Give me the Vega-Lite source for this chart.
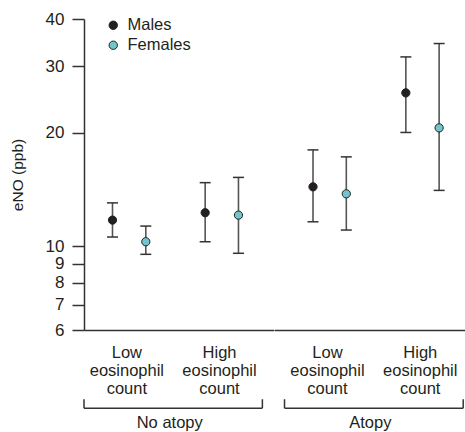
{
  "$schema": "https://vega.github.io/schema/vega-lite/v6.json",
  "autosize": {"type": "pad"},
  "padding": {"left": 10, "top": 10, "right": 0, "bottom": 0},
  "background": "white",
  "spacing": 0,
  "config": {
    "view": {"stroke": null},
    "font": "Liberation Sans",
    "concat": {"spacing": 0},
    "axisY": {
      "grid": false,
      "ticks": true,
      "tickSize": 12,
      "tickWidth": 1.5,
      "tickColor": "#333333",
      "tickOpacity": 1,
      "domainColor": "#333333",
      "domainWidth": 1.5,
      "labelPadding": 8,
      "labelFontSize": 17,
      "labelColor": "#231f20",
      "titleFontSize": 15.5,
      "titleFontWeight": "normal",
      "titleColor": "#231f20",
      "titlePadding": 20
    },
    "axisX": {
      "title": null,
      "ticks": false,
      "grid": false,
      "labelAngle": 0,
      "labelPadding": 14,
      "labelFontSize": 16.5,
      "labelLineHeight": 18.3,
      "labelColor": "#231f20",
      "domainColor": "#333333",
      "domainWidth": 1.5,
      "domainOpacity": 1
    }
  },
  "datasets": {
    "stats": [
      {"atopy": "No atopy", "eos": "Low", "sex": "Males", "mean": 11.73, "lo": 10.58, "hi": 13.03},
      {"atopy": "No atopy", "eos": "Low", "sex": "Females", "mean": 10.28, "lo": 9.52, "hi": 11.31},
      {"atopy": "No atopy", "eos": "High", "sex": "Males", "mean": 12.27, "lo": 10.28, "hi": 14.74},
      {"atopy": "No atopy", "eos": "High", "sex": "Females", "mean": 12.09, "lo": 9.58, "hi": 15.22},
      {"atopy": "Atopy", "eos": "Low", "sex": "Males", "mean": 14.37, "lo": 11.61, "hi": 18.0},
      {"atopy": "Atopy", "eos": "Low", "sex": "Females", "mean": 13.77, "lo": 11.04, "hi": 17.25},
      {"atopy": "Atopy", "eos": "High", "sex": "Males", "mean": 25.49, "lo": 20.02, "hi": 31.74},
      {"atopy": "Atopy", "eos": "High", "sex": "Females", "mean": 20.59, "lo": 14.06, "hi": 34.44}
    ]
  },
  "hconcat": [
    {
      "width": 189.5,
      "height": 311,
      "data": {"name": "stats"},
      "transform": [{"filter": "datum.atopy == 'No atopy'"}],
      "encoding": {
        "x": {
          "field": "eos",
          "type": "nominal",
          "scale": {"domain": ["Low", "High"], "paddingInner": 0.075, "paddingOuter": 0.06, "align": 0},
          "axis": {"labelExpr": "[datum.label, 'eosinophil', 'count']"}
        }
      },
      "layer": [
        {
          "mark": {"type": "rule", "color": "#555555", "strokeWidth": 1.6},
          "encoding": {
            "xOffset": {"field": "sex", "type": "nominal", "scale": {"domain": ["Males", "Females"], "paddingInner": 0, "paddingOuter": 0.287, "align": 0.62}},
            "y": {
              "field": "lo",
              "type": "quantitative",
              "scale": {"type": "log", "domain": [6, 40], "nice": false},
              "axis": {"values": [6, 7, 8, 9, 10, 20, 30, 40], "format": "d", "title": "eNO (ppb)", "ticks": true, "tickSize": 12, "tickColor": "#333333"}
            },
            "y2": {"field": "hi"}
          }
        },
        {
          "transform": [{"fold": ["lo", "hi"], "as": ["end", "val"]}],
          "mark": {"type": "tick", "orient": "horizontal", "color": "#333333", "size": 11, "thickness": 1.5, "opacity": 1},
          "encoding": {
            "xOffset": {"field": "sex", "type": "nominal"},
            "y": {"field": "val", "type": "quantitative", "axis": {"values": [6, 7, 8, 9, 10, 20, 30, 40], "format": "d", "title": "eNO (ppb)", "ticks": true, "tickSize": 12, "tickColor": "#333333"}}
          }
        },
        {
          "mark": {"type": "point", "filled": true, "size": 68, "stroke": "#231f20", "strokeWidth": 1, "opacity": 1},
          "encoding": {
            "xOffset": {"field": "sex", "type": "nominal"},
            "y": {"field": "mean", "type": "quantitative", "axis": {"values": [6, 7, 8, 9, 10, 20, 30, 40], "format": "d", "title": "eNO (ppb)", "ticks": true, "tickSize": 12, "tickColor": "#333333"}},
            "color": {
              "field": "sex",
              "type": "nominal",
              "scale": {"domain": ["Males", "Females"], "range": ["#231f20", "#70c7cb"]},
              "legend": {
                "title": null,
                "orient": "none",
                "legendX": 21,
                "legendY": -2,
                "padding": 0,
                "symbolType": "circle",
                "symbolSize": 70,
                "symbolStrokeColor": "#231f20",
                "symbolStrokeWidth": 1,
                "labelFontSize": 16.5,
                "labelColor": "#231f20",
                "labelOffset": 6,
                "rowPadding": 3
              }
            }
          }
        },
        {
          "transform": [{"filter": "datum.eos == 'Low' && datum.sex == 'Males'"}],
          "mark": {"type": "rule", "color": "#333333", "strokeWidth": 1.5},
          "encoding": {
            "x": {"datum": "Low", "type": "nominal", "bandPosition": 0},
            "x2": {"datum": "High", "bandPosition": 1},
            "y": {"datum": 3.724, "type": "quantitative", "axis": {"values": [6, 7, 8, 9, 10, 20, 30, 40], "format": "d", "title": "eNO (ppb)", "ticks": true, "tickSize": 12, "tickColor": "#333333"}}
          }
        },
        {
          "transform": [{"filter": "datum.eos == 'Low' && datum.sex == 'Males'"}],
          "mark": {"type": "rule", "color": "#333333", "strokeWidth": 1.5},
          "encoding": {
            "x": {"datum": "Low", "type": "nominal", "bandPosition": 0},
            "y": {"datum": 3.724, "type": "quantitative", "axis": {"values": [6, 7, 8, 9, 10, 20, 30, 40], "format": "d", "title": "eNO (ppb)", "ticks": true, "tickSize": 12, "tickColor": "#333333"}},
            "y2": {"datum": 3.933}
          }
        },
        {
          "transform": [{"filter": "datum.eos == 'Low' && datum.sex == 'Males'"}],
          "mark": {"type": "rule", "color": "#333333", "strokeWidth": 1.5},
          "encoding": {
            "x": {"datum": "High", "type": "nominal", "bandPosition": 1},
            "y": {"datum": 3.724, "type": "quantitative", "axis": {"values": [6, 7, 8, 9, 10, 20, 30, 40], "format": "d", "title": "eNO (ppb)", "ticks": true, "tickSize": 12, "tickColor": "#333333"}},
            "y2": {"datum": 3.933}
          }
        },
        {
          "transform": [{"filter": "datum.eos == 'Low' && datum.sex == 'Males'"}],
          "mark": {"type": "text", "align": "center", "baseline": "alphabetic", "fontSize": 16.5, "color": "#231f20"},
          "encoding": {
            "x": {"datum": "Low", "type": "nominal", "bandPosition": 1},
            "y": {"datum": 3.308, "type": "quantitative", "axis": {"values": [6, 7, 8, 9, 10, 20, 30, 40], "format": "d", "title": "eNO (ppb)", "ticks": true, "tickSize": 12, "tickColor": "#333333"}},
            "text": {"field": "atopy"}
          }
        }
      ]
    },
    {
      "width": 191.5,
      "height": 311,
      "data": {"name": "stats"},
      "transform": [{"filter": "datum.atopy == 'Atopy'"}],
      "encoding": {
        "x": {
          "field": "eos",
          "type": "nominal",
          "scale": {"domain": ["Low", "High"], "paddingInner": 0.075, "paddingOuter": 0.069, "align": 0.82},
          "axis": {"labelExpr": "[datum.label, 'eosinophil', 'count']"}
        }
      },
      "layer": [
        {
          "mark": {"type": "rule", "color": "#555555", "strokeWidth": 1.6},
          "encoding": {
            "xOffset": {"field": "sex", "type": "nominal", "scale": {"domain": ["Males", "Females"], "paddingInner": 0, "paddingOuter": 0.287, "align": 0.62}},
            "y": {
              "field": "lo",
              "type": "quantitative",
              "scale": {"type": "log", "domain": [6, 40], "nice": false},
              "axis": null
            },
            "y2": {"field": "hi"}
          }
        },
        {
          "transform": [{"fold": ["lo", "hi"], "as": ["end", "val"]}],
          "mark": {"type": "tick", "orient": "horizontal", "color": "#333333", "size": 11, "thickness": 1.5, "opacity": 1},
          "encoding": {
            "xOffset": {"field": "sex", "type": "nominal"},
            "y": {"field": "val", "type": "quantitative", "axis": null}
          }
        },
        {
          "mark": {"type": "point", "filled": true, "size": 68, "stroke": "#231f20", "strokeWidth": 1, "opacity": 1},
          "encoding": {
            "xOffset": {"field": "sex", "type": "nominal"},
            "y": {"field": "mean", "type": "quantitative", "axis": null},
            "color": {"field": "sex", "type": "nominal", "scale": {"domain": ["Males", "Females"], "range": ["#231f20", "#70c7cb"]}}
          }
        },
        {
          "transform": [{"filter": "datum.eos == 'Low' && datum.sex == 'Males'"}],
          "mark": {"type": "rule", "color": "#333333", "strokeWidth": 1.5},
          "encoding": {
            "x": {"datum": "Low", "type": "nominal", "bandPosition": 0},
            "x2": {"datum": "High", "bandPosition": 1},
            "y": {"datum": 3.724, "type": "quantitative", "axis": null}
          }
        },
        {
          "transform": [{"filter": "datum.eos == 'Low' && datum.sex == 'Males'"}],
          "mark": {"type": "rule", "color": "#333333", "strokeWidth": 1.5},
          "encoding": {
            "x": {"datum": "Low", "type": "nominal", "bandPosition": 0},
            "y": {"datum": 3.724, "type": "quantitative", "axis": null},
            "y2": {"datum": 3.933}
          }
        },
        {
          "transform": [{"filter": "datum.eos == 'Low' && datum.sex == 'Males'"}],
          "mark": {"type": "rule", "color": "#333333", "strokeWidth": 1.5},
          "encoding": {
            "x": {"datum": "High", "type": "nominal", "bandPosition": 1},
            "y": {"datum": 3.724, "type": "quantitative", "axis": null},
            "y2": {"datum": 3.933}
          }
        },
        {
          "transform": [{"filter": "datum.eos == 'Low' && datum.sex == 'Males'"}],
          "mark": {"type": "text", "align": "center", "baseline": "alphabetic", "fontSize": 16.5, "color": "#231f20"},
          "encoding": {
            "x": {"datum": "Low", "type": "nominal", "bandPosition": 1},
            "y": {"datum": 3.308, "type": "quantitative", "axis": null},
            "text": {"field": "atopy"}
          }
        }
      ]
    }
  ]
}
